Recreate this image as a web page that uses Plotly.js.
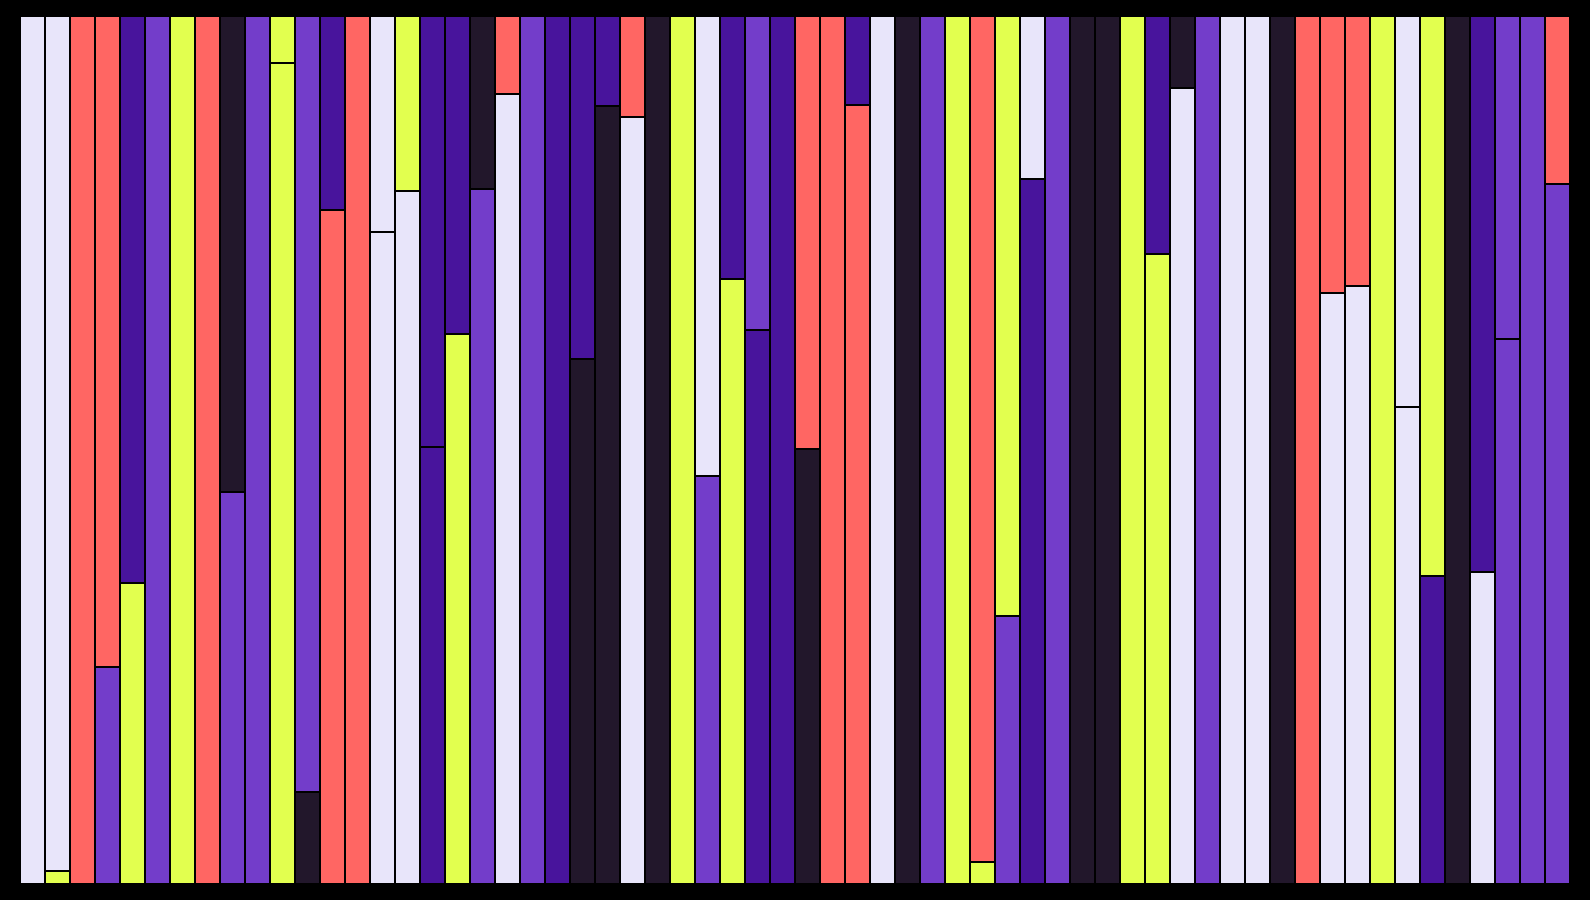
<!DOCTYPE html>
<html>
<head>
<meta charset="utf-8">
<script src="https://cdn.plot.ly/plotly-3.0.1.min.js"></script>
<style>
  html, body { margin: 0; padding: 0; background: #000; }
  #chart { width: 1590px; height: 900px; }
</style>
</head>
<body>
<div id="chart"></div>
<script>
// Palette keys -> colours
const palette = {
  L: "#E8E5FA", // lavender
  Y: "#E2FF4F", // yellow-green
  S: "#FF6663", // salmon
  D: "#48149C", // dark purple
  P: "#733DCA", // purple
  K: "#22172B"  // near black
};

// Categories (bar index)
const categories = Array.from({length: 62}, (_, i) => i + 1);

// Bottom segment share of each bar
const bottomShare = [
  1, 0.015, 1, 0.25, 0.347, 1, 1, 1, 0.452, 1,
  0.946, 0.106, 0.776, 1, 0.751, 0.798, 0.503, 0.634, 0.801, 0.910,
  1, 1, 0.605, 0.896, 0.884, 1, 1, 0.470, 0.697, 0.638,
  1, 0.501, 1, 0.897, 1, 1, 1, 1, 0.025, 0.309,
  0.812, 1, 1, 1, 1, 0.726, 0.917, 1, 1, 1,
  1, 1, 0.681, 0.689, 1, 0.550, 0.355, 1, 0.360, 0.628,
  1, 0.806
];

// Top segment share of each bar
const topShare = [
  0, 0.985, 0, 0.75, 0.653, 0, 0, 0, 0.548, 0,
  0.054, 0.894, 0.224, 0, 0.249, 0.202, 0.497, 0.366, 0.199, 0.090,
  0, 0, 0.395, 0.104, 0.116, 0, 0, 0.530, 0.303, 0.362,
  0, 0.499, 0, 0.103, 0, 0, 0, 0, 0.975, 0.691,
  0.188, 0, 0, 0, 0, 0.274, 0.083, 0, 0, 0,
  0, 0, 0.319, 0.311, 0, 0.450, 0.645, 0, 0.640, 0.372,
  0, 0.194
];

// Colour keys of bottom segments
const bottomColor = [
  "L","Y","S","P","Y","P","Y","S","P","P",
  "Y","K","S","S","L","L","D","Y","P","L",
  "P","D","K","K","L","K","Y","P","Y","D",
  "D","K","S","S","L","K","P","Y","Y","P",
  "D","P","K","K","Y","Y","L","P","L","L",
  "K","S","L","L","Y","L","D","K","L","P",
  "P","P"
];

// Colour keys of top segments
const topColor = [
  "L","L","S","S","D","P","Y","S","K","P",
  "Y","P","D","S","L","Y","D","D","K","S",
  "P","D","D","D","S","K","Y","L","D","P",
  "D","S","S","D","L","K","P","Y","S","Y",
  "L","P","K","K","Y","D","K","P","L","L",
  "K","S","S","S","Y","L","Y","K","D","P",
  "P","S"
];

const line = { color: "#000000", width: 2 };

const traces = [
  {
    type: "bar",
    x: categories,
    y: bottomShare,
    marker: { color: bottomColor.map(k => palette[k]), line: line },
    hoverinfo: "skip"
  },
  {
    type: "bar",
    x: categories,
    y: topShare,
    marker: { color: topColor.map(k => palette[k]), line: line },
    hoverinfo: "skip"
  }
];

const layout = {
  width: 1590,
  height: 900,
  barmode: "stack",
  bargap: 0,
  showlegend: false,
  paper_bgcolor: "#000000",
  plot_bgcolor: "#000000",
  margin: { l: 20, r: 20, t: 16, b: 16, pad: 0 },
  xaxis: {
    visible: false,
    range: [0.5, 62.5],
    fixedrange: true
  },
  yaxis: {
    visible: false,
    range: [0, 1],
    fixedrange: true
  }
};

Plotly.newPlot("chart", traces, layout, { displayModeBar: false, staticPlot: true });
</script>
</body>
</html>
